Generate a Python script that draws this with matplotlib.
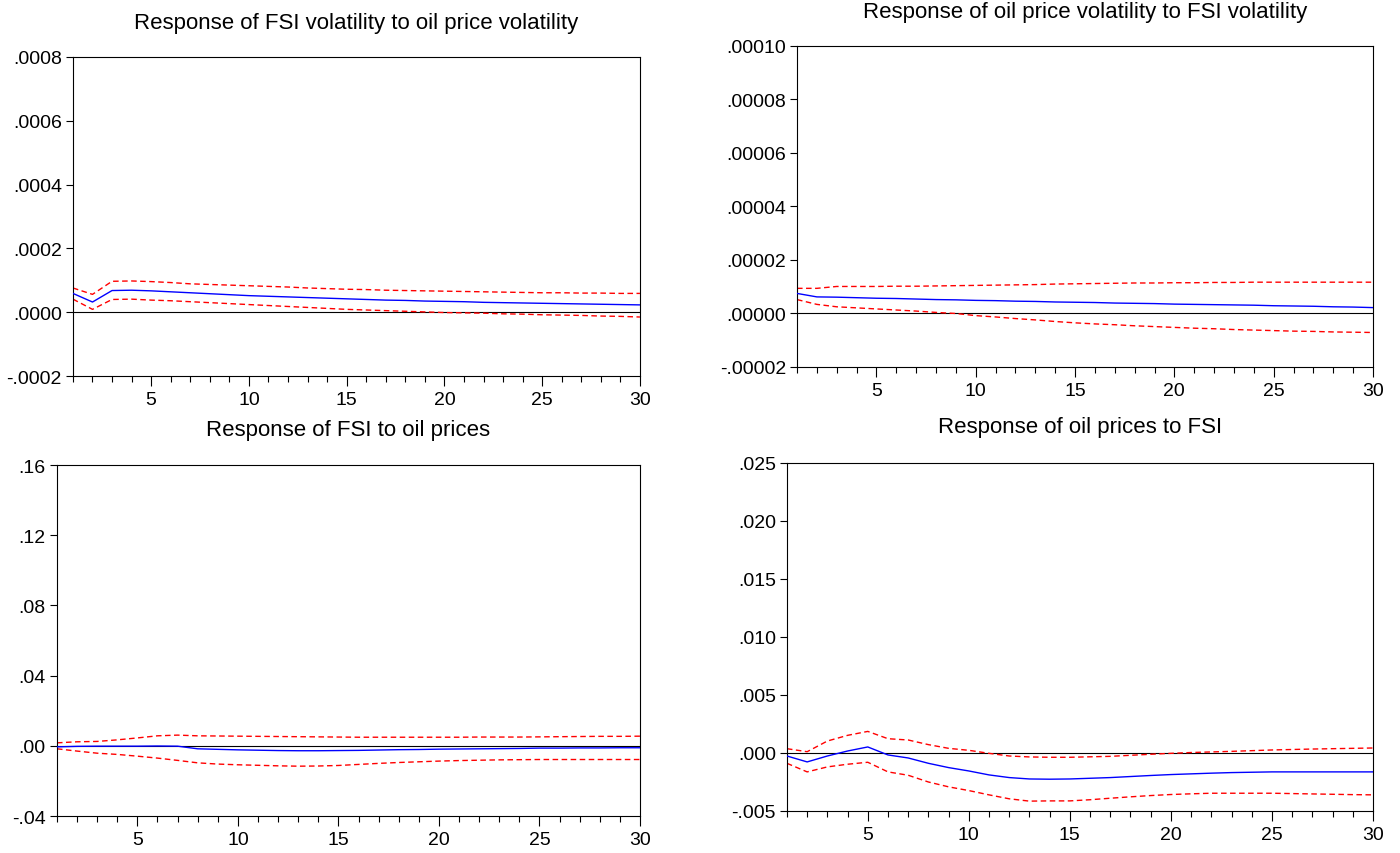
import matplotlib
matplotlib.use("Agg")
import matplotlib.pyplot as plt
from matplotlib.ticker import FixedLocator, MultipleLocator, FuncFormatter

plt.rcParams['font.family'] = ['Liberation Sans', 'DejaVu Sans']

periods = list(range(1, 31))

# Response of FSI volatility to oil price volatility
fsiv_resp = [0.59e-4, 0.32e-4, 0.68e-4, 0.69e-4, 0.67e-4, 0.64e-4, 0.61e-4, 0.58e-4, 0.55e-4, 0.52e-4,
             0.50e-4, 0.48e-4, 0.46e-4, 0.44e-4, 0.42e-4, 0.40e-4, 0.38e-4, 0.37e-4, 0.35e-4, 0.34e-4,
             0.33e-4, 0.31e-4, 0.30e-4, 0.29e-4, 0.28e-4, 0.27e-4, 0.26e-4, 0.25e-4, 0.24e-4, 0.23e-4]
fsiv_up = [0.76e-4, 0.56e-4, 0.97e-4, 0.98e-4, 0.96e-4, 0.93e-4, 0.89e-4, 0.87e-4, 0.85e-4, 0.83e-4,
           0.81e-4, 0.79e-4, 0.76e-4, 0.74e-4, 0.72e-4, 0.71e-4, 0.69e-4, 0.68e-4, 0.67e-4, 0.66e-4,
           0.65e-4, 0.64e-4, 0.63e-4, 0.62e-4, 0.61e-4, 0.61e-4, 0.60e-4, 0.60e-4, 0.59e-4, 0.59e-4]
fsiv_lo = [0.41e-4, 0.09e-4, 0.40e-4, 0.41e-4, 0.38e-4, 0.36e-4, 0.33e-4, 0.30e-4, 0.27e-4, 0.24e-4,
           0.21e-4, 0.18e-4, 0.15e-4, 0.12e-4, 0.09e-4, 0.07e-4, 0.05e-4, 0.03e-4, 0.01e-4, -0.01e-4,
           -0.02e-4, -0.03e-4, -0.05e-4, -0.06e-4, -0.08e-4, -0.09e-4, -0.10e-4, -0.12e-4, -0.13e-4, -0.15e-4]

# Response of oil price volatility to FSI volatility
oilv_resp = [0.75e-5, 0.62e-5, 0.61e-5, 0.59e-5, 0.57e-5, 0.56e-5, 0.54e-5, 0.52e-5, 0.51e-5, 0.49e-5,
             0.48e-5, 0.46e-5, 0.45e-5, 0.43e-5, 0.42e-5, 0.41e-5, 0.39e-5, 0.38e-5, 0.37e-5, 0.35e-5,
             0.34e-5, 0.33e-5, 0.32e-5, 0.31e-5, 0.29e-5, 0.28e-5, 0.27e-5, 0.25e-5, 0.24e-5, 0.22e-5]
oilv_up = [0.94e-5, 0.94e-5, 1.01e-5, 1.01e-5, 1.01e-5, 1.02e-5, 1.02e-5, 1.03e-5, 1.04e-5, 1.05e-5,
           1.06e-5, 1.07e-5, 1.08e-5, 1.10e-5, 1.11e-5, 1.12e-5, 1.13e-5, 1.14e-5, 1.14e-5, 1.15e-5,
           1.15e-5, 1.16e-5, 1.16e-5, 1.17e-5, 1.17e-5, 1.17e-5, 1.17e-5, 1.17e-5, 1.17e-5, 1.17e-5]
oilv_lo = [0.52e-5, 0.34e-5, 0.25e-5, 0.21e-5, 0.17e-5, 0.13e-5, 0.09e-5, 0.04e-5, 0.00e-5, -0.08e-5,
           -0.13e-5, -0.19e-5, -0.24e-5, -0.30e-5, -0.35e-5, -0.39e-5, -0.42e-5, -0.46e-5, -0.49e-5, -0.52e-5,
           -0.55e-5, -0.57e-5, -0.60e-5, -0.62e-5, -0.64e-5, -0.66e-5, -0.67e-5, -0.69e-5, -0.70e-5, -0.71e-5]

# Response of FSI to oil prices
fsi_resp = [-0.0006, -0.0003, -0.0002, -0.0002, -0.0002, -0.0001, -0.0002, -0.0017, -0.0020, -0.0023,
            -0.0025, -0.0027, -0.0028, -0.0028, -0.0027, -0.0026, -0.0024, -0.0022, -0.0021, -0.0019,
            -0.0018, -0.0017, -0.0016, -0.0015, -0.0013, -0.0013, -0.0012, -0.0012, -0.0011, -0.0011]
fsi_up = [0.0017, 0.0023, 0.0025, 0.0034, 0.0045, 0.0057, 0.0061, 0.0057, 0.0056, 0.0055,
          0.0054, 0.0053, 0.0052, 0.0051, 0.0050, 0.0049, 0.0049, 0.0049, 0.0049, 0.0049,
          0.0049, 0.0050, 0.0050, 0.0050, 0.0051, 0.0052, 0.0053, 0.0054, 0.0054, 0.0055]
fsi_lo = [-0.0017, -0.0030, -0.0042, -0.0049, -0.0059, -0.0070, -0.0083, -0.0097, -0.0104, -0.0108,
          -0.0111, -0.0114, -0.0116, -0.0115, -0.0112, -0.0106, -0.0100, -0.0095, -0.0091, -0.0087,
          -0.0084, -0.0082, -0.0080, -0.0079, -0.0078, -0.0078, -0.0078, -0.0078, -0.0078, -0.0078]

# Response of oil prices to FSI
oil_resp = [-0.00026, -0.00077, -0.00026, 0.00017, 0.00052, -0.00017, -0.00043, -0.00089, -0.00126, -0.00155,
            -0.00189, -0.00212, -0.00224, -0.00226, -0.00224, -0.00218, -0.00212, -0.00203, -0.00194, -0.00186,
            -0.00180, -0.00174, -0.00169, -0.00166, -0.00163, -0.00163, -0.00163, -0.00163, -0.00163, -0.00163]
oil_up = [0.00037, 0.00011, 0.00103, 0.00152, 0.00186, 0.00123, 0.00112, 0.00072, 0.00040, 0.00023,
          -0.00003, -0.00026, -0.00034, -0.00037, -0.00037, -0.00033, -0.00029, -0.00020, -0.00011, -0.00003,
          0.00004, 0.00009, 0.00014, 0.00020, 0.00026, 0.00030, 0.00034, 0.00037, 0.00040, 0.00043]
oil_lo = [-0.00089, -0.00163, -0.00120, -0.00097, -0.00080, -0.00163, -0.00192, -0.00250, -0.00292, -0.00324,
          -0.00361, -0.00395, -0.00415, -0.00413, -0.00413, -0.00403, -0.00390, -0.00378, -0.00367, -0.00358,
          -0.00352, -0.00347, -0.00347, -0.00347, -0.00347, -0.00350, -0.00353, -0.00356, -0.00359, -0.00361]

titles = ["Response of FSI volatility to oil price volatility",
          "Response of oil price volatility to FSI volatility",
          "Response of FSI to oil prices",
          "Response of oil prices to FSI"]

ytick_vals = [[-0.0002, 0.0, 0.0002, 0.0004, 0.0006, 0.0008],
              [-0.00002, 0.0, 0.00002, 0.00004, 0.00006, 0.00008, 0.00010],
              [-0.04, 0.0, 0.04, 0.08, 0.12, 0.16],
              [-0.005, 0.0, 0.005, 0.010, 0.015, 0.020, 0.025]]
ytick_labels = [["-.0002", ".0000", ".0002", ".0004", ".0006", ".0008"],
                ["-.00002", ".00000", ".00002", ".00004", ".00006", ".00008", ".00010"],
                ["-.04", ".00", ".04", ".08", ".12", ".16"],
                ["-.005", ".000", ".005", ".010", ".015", ".020", ".025"]]

series = [(fsiv_resp, fsiv_up, fsiv_lo), (oilv_resp, oilv_up, oilv_lo),
          (fsi_resp, fsi_up, fsi_lo), (oil_resp, oil_up, oil_lo)]

rects = [[0.0521, 0.5585, 0.4050, 0.3736],
         [0.5693, 0.5691, 0.4114, 0.3759],
         [0.0407, 0.0433, 0.4164, 0.4110],
         [0.5621, 0.0492, 0.4186, 0.4075]]
title_pad = [21, 21, 21.5, 22]

fig = plt.figure(figsize=(14, 8.54), dpi=100)

for i in range(4):
    ax = fig.add_axes(rects[i])
    resp, up, lo = series[i]
    ax.axhline(0, color='black', lw=0.8, zorder=1)
    ax.plot(periods, resp, color='blue', lw=1.0, zorder=3)
    ax.plot(periods, up, color='red', lw=1.0, ls=(0, (4, 2.5)), zorder=2)
    ax.plot(periods, lo, color='red', lw=1.0, ls=(0, (4, 2.5)), zorder=2)
    ax.set_xlim(1, 30)
    ax.set_ylim(ytick_vals[i][0], ytick_vals[i][-1])
    ax.xaxis.set_major_locator(FixedLocator([5, 10, 15, 20, 25, 30]))
    ax.xaxis.set_minor_locator(MultipleLocator(1))
    ax.yaxis.set_major_locator(FixedLocator(ytick_vals[i]))
    labels = ytick_labels[i]
    vals = ytick_vals[i]
    ax.yaxis.set_major_formatter(FuncFormatter(lambda v, p, labels=labels, vals=vals:
                                               labels[min(range(len(vals)), key=lambda k: abs(vals[k] - v))]))
    ax.tick_params(axis='both', which='major', direction='out', labelsize=14, length=7, width=0.8, color='black')
    ax.tick_params(axis='x', which='minor', direction='out', length=4, width=0.8)
    ax.tick_params(axis='y', which='major', length=5, pad=3)
    for s in ax.spines.values():
        s.set_linewidth(0.8)
    ax.set_title(titles[i], fontsize=16, pad=title_pad[i])

fig.savefig("out.png", dpi=100)
